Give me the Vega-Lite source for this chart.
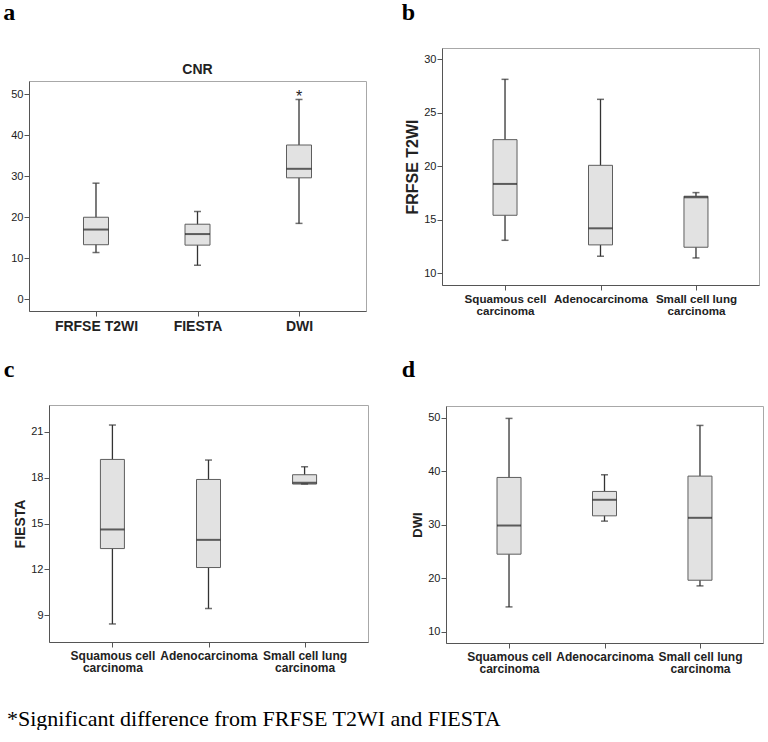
{
  "$schema": "https://vega.github.io/schema/vega-lite/v6.json",
  "padding": {"left": 2, "top": 0, "right": 0, "bottom": 0},
  "background": "white",
  "datasets": {
    "cnr": [
      {"group": "FRFSE T2WI", "min": 11.4, "q1": 13.3, "median": 17.0, "q3": 20.0, "max": 28.3},
      {"group": "FIESTA", "min": 8.3, "q1": 13.2, "median": 15.9, "q3": 18.3, "max": 21.4},
      {"group": "DWI", "min": 18.5, "q1": 29.6, "median": 31.8, "q3": 37.6, "max": 48.7, "outlier": 49.9}
    ],
    "frfse": [
      {"group": "Squamous cell carcinoma", "min": 13.08, "q1": 15.42, "median": 18.35, "q3": 22.49, "max": 28.13},
      {"group": "Adenocarcinoma", "min": 11.59, "q1": 12.65, "median": 14.2, "q3": 20.09, "max": 26.26},
      {"group": "Small cell lung carcinoma", "min": 11.43, "q1": 12.43, "median": 17.1, "q3": 17.2, "max": 17.54}
    ],
    "fiesta": [
      {"group": "Squamous cell carcinoma", "min": 8.43, "q1": 13.36, "median": 14.61, "q3": 19.19, "max": 21.44},
      {"group": "Adenocarcinoma", "min": 9.44, "q1": 12.12, "median": 13.93, "q3": 17.88, "max": 19.15},
      {"group": "Small cell lung carcinoma", "min": 17.58, "q1": 17.58, "median": 17.66, "q3": 18.19, "max": 18.71}
    ],
    "dwi": [
      {"group": "Squamous cell carcinoma", "min": 14.62, "q1": 24.48, "median": 29.84, "q3": 38.83, "max": 49.87},
      {"group": "Adenocarcinoma", "min": 30.66, "q1": 31.65, "median": 34.65, "q3": 36.21, "max": 39.33},
      {"group": "Small cell lung carcinoma", "min": 18.55, "q1": 19.61, "median": 31.28, "q3": 39.08, "max": 48.56}
    ]
  },
  "title": {
    "text": "*Significant difference from FRFSE T2WI and FIESTA",
    "orient": "bottom",
    "anchor": "start",
    "font": "Liberation Serif",
    "fontSize": 22,
    "fontWeight": "normal",
    "color": "#000",
    "offset": 34,
    "dx": 5
  },
  "config": {
    "font": "Liberation Sans",
    "view": {"stroke": "#a8a8a8", "strokeWidth": 1},
    "axis": {
      "domainColor": "#555",
      "tickColor": "#555",
      "labelColor": "#222",
      "titleColor": "#222",
      "labelFont": "Liberation Sans",
      "titleFont": "Liberation Sans",
      "grid": false,
      "tickSize": 5,
      "labelFontSize": 11,
      "labelPadding": 1
    },
    "title": {"font": "Liberation Serif", "fontSize": 24, "fontWeight": "bold", "anchor": "start", "color": "#000"}
  },
  "concat": [
    {
      "hconcat": [
        {"width": 1, "height": 1, "view": {"stroke": null}, "data": {"values": []}, "mark": {"type": "point", "opacity": 0}, "encoding": {}},
        {
          "title": {"text": "a", "dx": -7, "offset": 23},
          "vconcat": [
            {"width": 1, "height": 1, "view": {"stroke": null}, "data": {"values": []}, "mark": {"type": "point", "opacity": 0}, "encoding": {}},
            {
              "title": {"text": "CNR", "font": "Liberation Sans", "fontSize": 14, "fontWeight": "bold", "anchor": "middle", "frame": "group", "offset": 4, "color": "#222"},
              "width": 337,
              "height": 230,
              "data": {"name": "cnr"},
              "encoding": {
                "x": {"field": "group", "type": "nominal", "sort": null, "scale": {"type": "point", "padding": 0.66},
                  "axis": {"title": null, "labelAngle": 0, "labelFontSize": 14, "labelFontWeight": "bold", "labelPadding": 3}}
              },
              "layer": [
                {"mark": {"type": "rule", "color": "#333", "strokeWidth": 1.3},
                 "encoding": {"y": {"field": "min", "type": "quantitative", "title": null,
                   "scale": {"domain": [-2.85, 53.2], "nice": false, "zero": false},
                   "axis": {"values": [0, 10, 20, 30, 40, 50]}}, "y2": {"field": "max"}}},
                {"mark": {"type": "bar", "size": 25, "fill": "#e2e2e2", "stroke": "#5e5e5e", "strokeWidth": 1},
                 "encoding": {"y": {"field": "q1", "type": "quantitative", "title": null}, "y2": {"field": "q3"}}},
                {"mark": {"type": "tick", "size": 25, "thickness": 2, "color": "#222"},
                 "encoding": {"y": {"field": "median", "type": "quantitative", "title": null}}},
                {"mark": {"type": "tick", "size": 7, "thickness": 1.5, "color": "#333"},
                 "encoding": {"y": {"field": "min", "type": "quantitative", "title": null}}},
                {"mark": {"type": "tick", "size": 7, "thickness": 1.5, "color": "#333"},
                 "encoding": {"y": {"field": "max", "type": "quantitative", "title": null}}},
                {"transform": [{"filter": "isValid(datum.outlier)"}],
                 "mark": {"type": "text", "text": "*", "fontSize": 16, "font": "Liberation Sans", "baseline": "middle", "dy": 2, "color": "#222"},
                 "encoding": {"y": {"field": "outlier", "type": "quantitative", "title": null}}}
              ]
            }
          ],
          "spacing": 13
        }
      ],
      "spacing": 0
    },
    {
      "vconcat": [
        {
          "title": {"text": "b", "dx": -3, "offset": 23},
          "width": 317,
          "height": 237,
          "data": {"name": "frfse"},
          "encoding": {
            "x": {"field": "group", "type": "nominal", "sort": null, "scale": {"type": "point", "padding": 0.66},
              "axis": {"title": null, "labelAngle": 0, "labelFontSize": 11.6, "labelFontWeight": "bold", "labelPadding": 3, "labelLineHeight": 12,
                "labelExpr": "datum.label == 'Squamous cell carcinoma' ? ['Squamous cell', 'carcinoma'] : datum.label == 'Small cell lung carcinoma' ? ['Small cell lung', 'carcinoma'] : datum.label"}}
          },
          "layer": [
            {"mark": {"type": "rule", "color": "#333", "strokeWidth": 1.3},
             "encoding": {"y": {"field": "min", "type": "quantitative", "title": "FRFSE T2WI",
               "scale": {"domain": [8.9, 31.06], "nice": false, "zero": false},
               "axis": {"values": [10, 15, 20, 25, 30], "titleFontSize": 16, "titleFontWeight": "bold", "titlePadding": 3}}, "y2": {"field": "max"}}},
            {"mark": {"type": "bar", "size": 24, "fill": "#e2e2e2", "stroke": "#5e5e5e", "strokeWidth": 1},
             "encoding": {"y": {"field": "q1", "type": "quantitative", "title": "FRFSE T2WI"}, "y2": {"field": "q3"}}},
            {"mark": {"type": "tick", "size": 24, "thickness": 2, "color": "#222"},
             "encoding": {"y": {"field": "median", "type": "quantitative", "title": "FRFSE T2WI"}}},
            {"mark": {"type": "tick", "size": 7, "thickness": 1.5, "color": "#333"},
             "encoding": {"y": {"field": "min", "type": "quantitative", "title": "FRFSE T2WI"}}},
            {"mark": {"type": "tick", "size": 7, "thickness": 1.5, "color": "#333"},
             "encoding": {"y": {"field": "max", "type": "quantitative", "title": "FRFSE T2WI"}}}
          ]
        },
        {"width": 1, "height": 1, "view": {"stroke": null}, "data": {"values": []}, "mark": {"type": "point", "opacity": 0}, "encoding": {}}
      ],
      "spacing": 14
    },
    {
      "hconcat": [
        {"width": 1, "height": 1, "view": {"stroke": null}, "data": {"values": []}, "mark": {"type": "point", "opacity": 0}, "encoding": {}},
        {
          "title": {"text": "c", "dx": -10, "offset": 23},
          "width": 319,
          "height": 237,
          "data": {"name": "fiesta"},
          "encoding": {
            "x": {"field": "group", "type": "nominal", "sort": null, "scale": {"type": "point", "padding": 0.66},
              "axis": {"title": null, "labelAngle": 0, "labelFontSize": 12, "labelFontWeight": "bold", "labelPadding": 3, "labelLineHeight": 12,
                "labelExpr": "datum.label == 'Squamous cell carcinoma' ? ['Squamous cell', 'carcinoma'] : datum.label == 'Small cell lung carcinoma' ? ['Small cell lung', 'carcinoma'] : datum.label"}}
          },
          "layer": [
            {"mark": {"type": "rule", "color": "#333", "strokeWidth": 1.3},
             "encoding": {"y": {"field": "min", "type": "quantitative", "title": "FIESTA",
               "scale": {"domain": [7.25, 22.75], "nice": false, "zero": false},
               "axis": {"values": [9, 12, 15, 18, 21], "titleFontSize": 14, "titleFontWeight": "bold", "titlePadding": 3}}, "y2": {"field": "max"}}},
            {"mark": {"type": "bar", "size": 24, "fill": "#e2e2e2", "stroke": "#5e5e5e", "strokeWidth": 1},
             "encoding": {"y": {"field": "q1", "type": "quantitative", "title": "FIESTA"}, "y2": {"field": "q3"}}},
            {"mark": {"type": "tick", "size": 24, "thickness": 2, "color": "#222"},
             "encoding": {"y": {"field": "median", "type": "quantitative", "title": "FIESTA"}}},
            {"mark": {"type": "tick", "size": 7, "thickness": 1.5, "color": "#333"},
             "encoding": {"y": {"field": "min", "type": "quantitative", "title": "FIESTA"}}},
            {"mark": {"type": "tick", "size": 7, "thickness": 1.5, "color": "#333"},
             "encoding": {"y": {"field": "max", "type": "quantitative", "title": "FIESTA"}}}
          ]
        }
      ],
      "spacing": 0
    },
    {
      "title": {"text": "d", "dx": -10, "offset": 24},
      "width": 317,
      "height": 237,
      "data": {"name": "dwi"},
      "encoding": {
        "x": {"field": "group", "type": "nominal", "sort": null, "scale": {"type": "point", "padding": 0.66},
          "axis": {"title": null, "labelAngle": 0, "labelFontSize": 12, "labelFontWeight": "bold", "labelPadding": 3, "labelLineHeight": 12,
            "labelExpr": "datum.label == 'Squamous cell carcinoma' ? ['Squamous cell', 'carcinoma'] : datum.label == 'Small cell lung carcinoma' ? ['Small cell lung', 'carcinoma'] : datum.label"}}
      },
      "layer": [
        {"mark": {"type": "rule", "color": "#333", "strokeWidth": 1.3},
         "encoding": {"y": {"field": "min", "type": "quantitative", "title": "DWI",
           "scale": {"domain": [7.87, 52.19], "nice": false, "zero": false},
           "axis": {"values": [10, 20, 30, 40, 50], "titleFontSize": 13, "titleFontWeight": "bold", "titlePadding": 3}}, "y2": {"field": "max"}}},
        {"mark": {"type": "bar", "size": 24, "fill": "#e2e2e2", "stroke": "#5e5e5e", "strokeWidth": 1},
         "encoding": {"y": {"field": "q1", "type": "quantitative", "title": "DWI"}, "y2": {"field": "q3"}}},
        {"mark": {"type": "tick", "size": 24, "thickness": 2, "color": "#222"},
         "encoding": {"y": {"field": "median", "type": "quantitative", "title": "DWI"}}},
        {"mark": {"type": "tick", "size": 7, "thickness": 1.5, "color": "#333"},
         "encoding": {"y": {"field": "min", "type": "quantitative", "title": "DWI"}}},
        {"mark": {"type": "tick", "size": 7, "thickness": 1.5, "color": "#333"},
         "encoding": {"y": {"field": "max", "type": "quantitative", "title": "DWI"}}}
      ]
    }
  ],
  "columns": 2,
  "align": "none",
  "spacing": {"row": 23, "column": 32}
}
